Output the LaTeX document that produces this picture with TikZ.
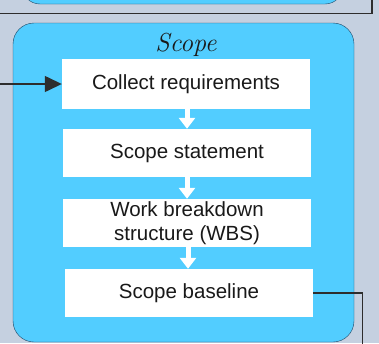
\documentclass[tikz,border=0pt]{standalone}
\usepackage{fontspec}
\setmainfont{Liberation Sans}
\newfontfamily\handfont{Latin Modern Roman}
\usetikzlibrary{arrows.meta}
\usetikzlibrary{positioning}
\definecolor{pagebg}{RGB}{197,208,224}
\definecolor{scopeblue}{RGB}{82,205,255}
\definecolor{scopeedge}{RGB}{30,70,100}
\definecolor{linegray}{RGB}{45,45,45}
\definecolor{inktext}{RGB}{25,25,25}

\begin{document}
\begin{tikzpicture}[x=1pt, y=-1pt,
    stepbox/.style={fill=white, minimum width=248pt, minimum height=48pt,
        inner sep=0pt, align=center, text=inktext,
        font=\fontsize{20.5}{24.5}\selectfont},
    flowarrow/.style={white, line width=5pt,
        -{Triangle[width=16pt, length=11pt]}, shorten <=-1pt},
    feedline/.style={linegray, line width=1.4pt}]
    \useasboundingbox[fill=pagebg] (0,0) rectangle (379,343);

    % group above, only its bottom shows
    \draw[linegray, line width=1.5pt] (-20,-80) rectangle (372,13.5);
    \draw[scopeedge, fill=scopeblue, rounded corners=18pt] (22,-60) rectangle (343,4);

    % scope group
    \draw[scopeedge, fill=scopeblue, rounded corners=21pt] (13,23) rectangle (354,342);
    \node[font=\fontsize{26}{27}\selectfont\handfont\itshape, text=inktext] (title) at (186,45) {Scope};

    \node[stepbox, minimum height=50pt] (collect) at (186,84) {Collect requirements};
    \node[stepbox] (statement) at (187,153) {Scope statement};
    \node[stepbox] (wbs) at (187,223) {Work breakdown\\structure (WBS)};
    \node[stepbox] (baseline) at (189,293) {Scope baseline};

    \draw[flowarrow] (collect.south -| 187,0) -- (statement.north -| 187,0);
    \draw[flowarrow] (statement.south -| 187,0) -- (wbs.north -| 187,0);
    \draw[flowarrow] (wbs.south -| 188,0) -- (baseline.north -| 188,0);

    % links to the other groups
    \coordinate (from) at (-2,84);
    \coordinate (bend) at (362.5,293);
    \coordinate (to) at (362.5,350);
    \draw[feedline, -{Triangle[width=16pt, length=17pt]}] (from) -- (collect.west);
    \draw[feedline] (baseline.east) -- (bend) -- (to);
\end{tikzpicture}
\end{document}
